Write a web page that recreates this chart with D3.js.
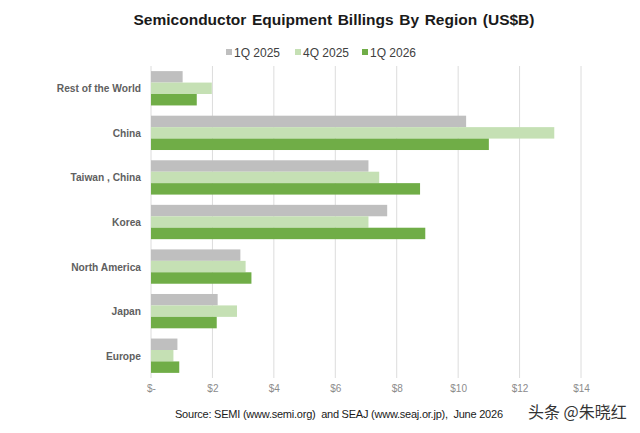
<!DOCTYPE html>
<html>
<head>
<meta charset="utf-8">
<script src="https://cdn.jsdelivr.net/npm/d3@7"></script>
<style>
  body { margin: 0; background: #fff; }
  svg { font-family: "Liberation Sans", Arial, sans-serif; }
</style>
</head>
<body>
<div id="chart"></div>
<script>
// values, US$ billions
var regions = ["Rest of the World", "China", "Taiwan , China", "Korea", "North America", "Japan", "Europe"];
var seriesNames = ["1Q 2025", "4Q 2025", "1Q 2026"];
var q1_2025 = [1.03, 10.26, 7.08, 7.69, 2.91, 2.17, 0.86];
var q4_2025 = [1.98, 13.13, 7.43, 7.08, 3.08, 2.80, 0.73];
var q1_2026 = [1.49, 11.00, 8.76, 8.93, 3.27, 2.14, 0.92];
var ticks = [0, 2, 4, 6, 8, 10, 12, 14];
var colors = ["#bfbfbf", "#c5e0b4", "#70ad47"];

var series = [q1_2025, q4_2025, q1_2026];

var width = 640, height = 433;
var margin = {top: 66, right: 59, bottom: 55, left: 151};

var svg = d3.select("#chart").append("svg")
    .attr("width", width).attr("height", height);

var x = d3.scaleLinear().domain([0, 14]).range([margin.left, width - margin.right]);
var y = d3.scaleBand().domain(regions)
    .range([margin.top, height - margin.bottom])
    .paddingInner(0.23).paddingOuter(0.115);
var ySub = d3.scaleBand().domain(d3.range(series.length)).range([0, y.bandwidth()]);

//title
svg.append("text")
    .attr("x", 334).attr("y", 25)
    .attr("text-anchor", "middle")
    .attr("font-size", 15.5).attr("font-weight", "bold").attr("fill", "#1a1a1a")
    .attr("word-spacing", 1.3)
    .text("Semiconductor Equipment Billings By Region (US$B)");

//legend
var legendX = [226, 295, 362];
var lg = svg.append("g").selectAll("g").data(seriesNames).join("g")
    .attr("transform", (d, i) => "translate(" + legendX[i] + ",52)");
lg.append("rect").attr("x", 0).attr("y", -3).attr("width", 6).attr("height", 6)
    .attr("fill", (d, i) => colors[i]);
lg.append("text").attr("x", 8).attr("y", 4.5)
    .attr("font-size", 12).attr("fill", "#404040")
    .text(d => d);

//gridlines
svg.append("g").selectAll("line").data(ticks).join("line")
    .attr("x1", d => x(d)).attr("x2", d => x(d))
    .attr("y1", margin.top).attr("y2", height - margin.bottom)
    .attr("stroke", "#dcdcdc").attr("stroke-width", 1);

//bars
var groups = svg.append("g").selectAll("g").data(regions).join("g")
    .attr("transform", d => "translate(0," + y(d) + ")");

groups.selectAll("rect")
    .data((d, ri) => series.map((s, si) => ({si: si, v: s[ri]})))
    .join("rect")
    .attr("x", x(0))
    .attr("y", d => ySub(d.si))
    .attr("width", d => x(d.v) - x(0))
    .attr("height", ySub.bandwidth())
    .attr("fill", d => colors[d.si]);

//category labels
svg.append("g").selectAll("text").data(regions).join("text")
    .attr("x", margin.left - 10)
    .attr("y", d => y(d) + y.bandwidth() / 2 + 4)
    .attr("text-anchor", "end")
    .attr("font-size", 10.2).attr("font-weight", "bold").attr("fill", "#606060")
    .text(d => d);

//x axis
var xAxis = d3.axisBottom(x).tickValues(ticks).tickSize(0)
    .tickFormat(d => d === 0 ? "$-" : "$" + d);
var ax = svg.append("g")
    .attr("transform", "translate(0," + (height - margin.bottom) + ")")
    .call(xAxis);
ax.select(".domain").remove();
ax.selectAll("text").attr("dy", 0).attr("y", 14)
    .attr("font-family", "'Liberation Sans', Arial, sans-serif")
    .attr("font-size", 10).attr("fill", "#8c8c8c");

//source
svg.append("text")
    .attr("x", 175).attr("y", 418)
    .attr("font-size", 11).attr("fill", "#1a1a1a")
    .attr("textLength", 328).attr("lengthAdjust", "spacing")
    .attr("xml:space", "preserve")
    .text("Source: SEMI (www.semi.org)  and SEAJ (www.seaj.or.jp),  June 2026");

//watermark
svg.append("text")
    .attr("x", 528).attr("y", 418)
    .attr("font-family", "'Noto Sans CJK SC', sans-serif")
    .attr("font-size", 16).attr("fill", "#333")
    .text("头条 @朱晓红");
</script>
</body>
</html>
